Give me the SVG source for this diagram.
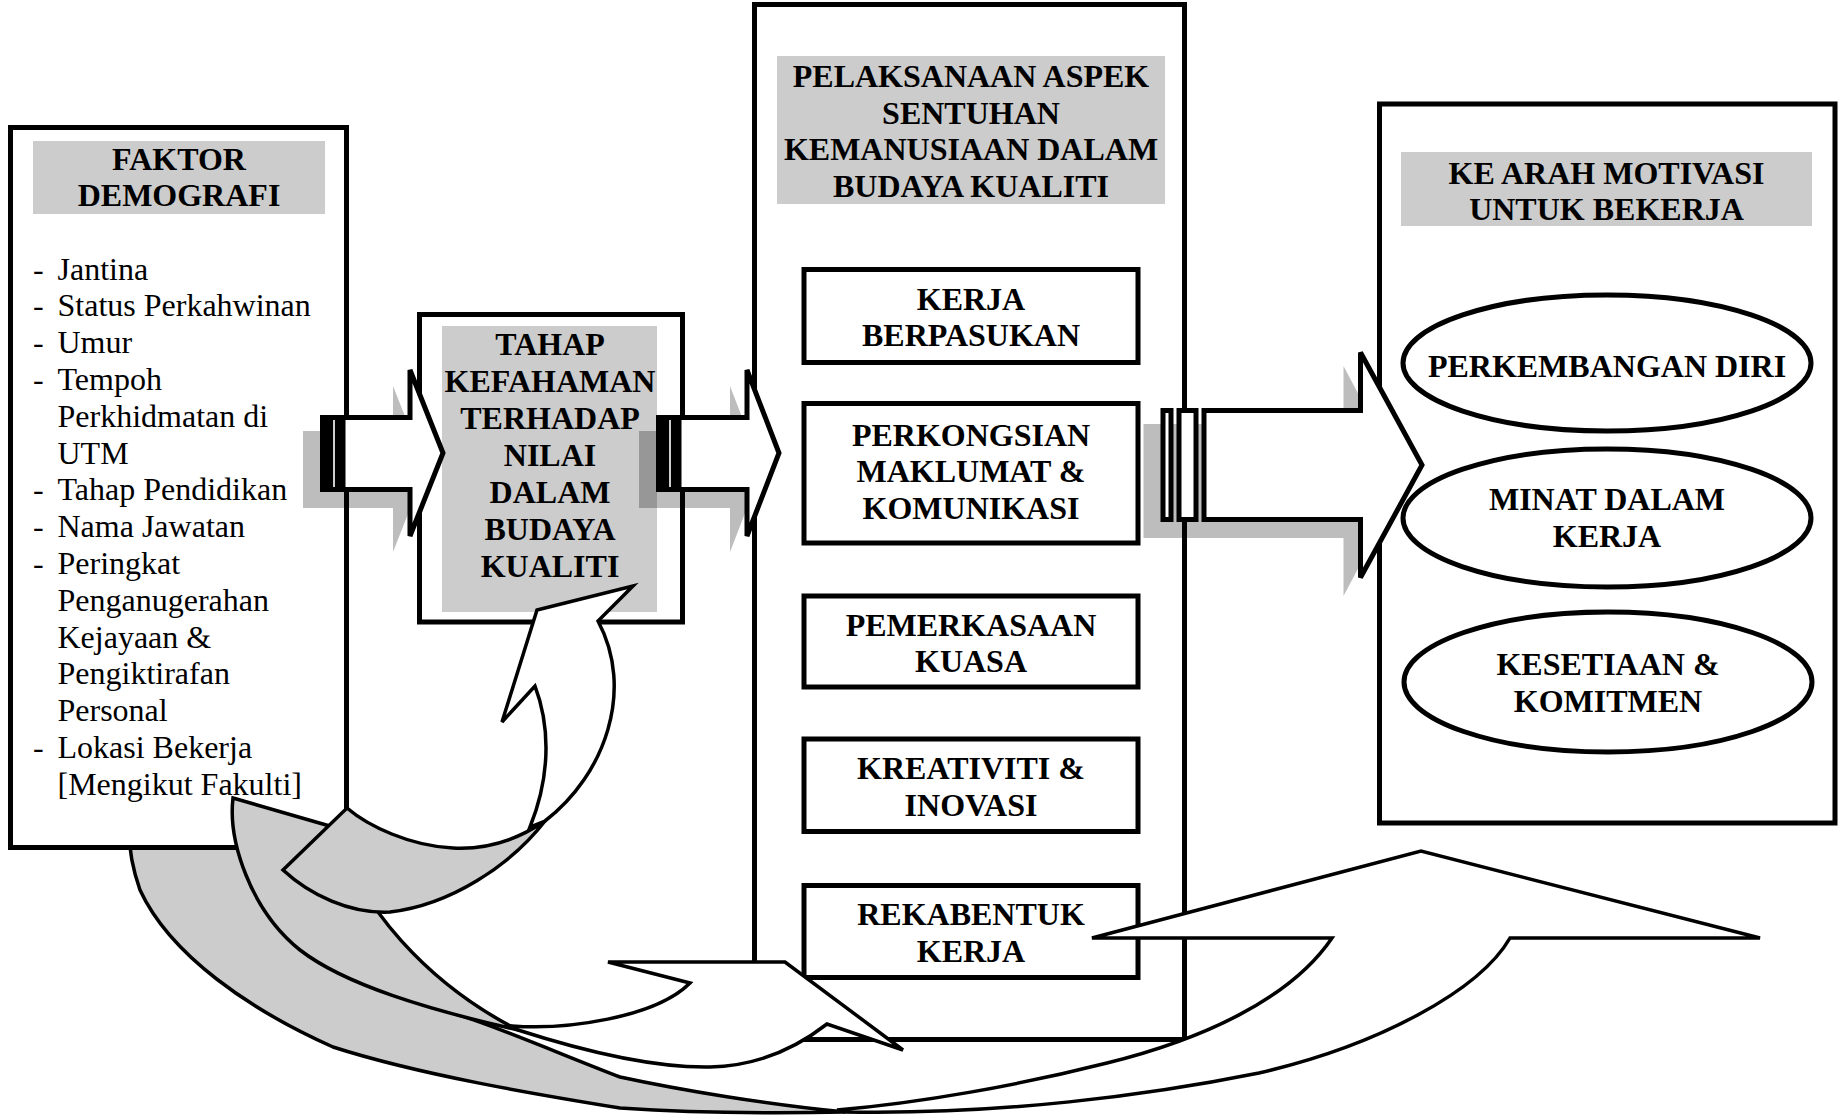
<svg xmlns="http://www.w3.org/2000/svg" width="1839" height="1118" viewBox="0 0 1839 1118">
  <style>
    .box { fill: #fff; stroke: #000; stroke-width: 5; }
    .hdr { fill: #cccccc; }
    .t { font-family: "Liberation Serif", "Times New Roman", serif; font-size: 32px; fill: #000; }
    .b { font-weight: bold; text-anchor: middle; }
    .ell { fill: #fff; stroke: #000; stroke-width: 5; }
    .blk { fill: #fff; stroke: #000; stroke-width: 5; stroke-linejoin: miter; }
    .bar { fill: #000; }
    .slit { fill: #fff; }
    .shadow { fill: #000; fill-opacity: 0.26; }
    .curve { stroke: #000; stroke-width: 3.5; stroke-linejoin: miter; }
    .back { fill: #cccccc; }
    .front { fill: #fff; }
  </style>

  <rect width="1839" height="1118" fill="#fff"/>

  <!-- Centre column: human-touch aspects of quality culture -->
  <g id="aspek">
    <rect class="box" x="754.5" y="4.5" width="430" height="1035"/>
    <rect class="hdr" x="777" y="56" width="388" height="148"/>
    <text class="t b" x="971" y="87">PELAKSANAAN ASPEK</text>
    <text class="t b" x="971" y="123.5">SENTUHAN</text>
    <text class="t b" x="971" y="160">KEMANUSIAAN DALAM</text>
    <text class="t b" x="971" y="196.5">BUDAYA KUALITI</text>
  </g>
  <g id="kerja-berpasukan">
    <rect class="box" x="804" y="269.5" width="334" height="93"/>
    <text class="t b" x="971" y="309.5">KERJA</text>
    <text class="t b" x="971" y="346">BERPASUKAN</text>
  </g>
  <g id="perkongsian">
    <rect class="box" x="804" y="403.5" width="334" height="139.5"/>
    <text class="t b" x="971" y="445.5">PERKONGSIAN</text>
    <text class="t b" x="971" y="482.3">MAKLUMAT &amp;</text>
    <text class="t b" x="971" y="519">KOMUNIKASI</text>
  </g>
  <g id="pemerkasaan">
    <rect class="box" x="804" y="596" width="334" height="91"/>
    <text class="t b" x="971" y="635.5">PEMERKASAAN</text>
    <text class="t b" x="971" y="672">KUASA</text>
  </g>
  <g id="kreativiti">
    <rect class="box" x="804" y="739" width="334" height="92.5"/>
    <text class="t b" x="971" y="779">KREATIVITI &amp;</text>
    <text class="t b" x="971" y="815.5">INOVASI</text>
  </g>
  <g id="rekabentuk">
    <rect class="box" x="804" y="885.5" width="334" height="92"/>
    <text class="t b" x="971" y="924.5">REKABENTUK</text>
    <text class="t b" x="971" y="961.5">KERJA</text>
  </g>

  <!-- Right column: towards work motivation -->
  <g id="motivasi">
    <rect class="box" x="1379.5" y="104" width="455.5" height="719"/>
    <rect class="hdr" x="1401" y="152" width="411" height="74"/>
    <text class="t b" x="1606.5" y="183.5">KE ARAH MOTIVASI</text>
    <text class="t b" x="1606.5" y="220">UNTUK BEKERJA</text>
  </g>
  <g id="perkembangan-diri">
    <ellipse class="ell" cx="1607" cy="363" rx="204" ry="68"/>
    <text class="t b" x="1607" y="377">PERKEMBANGAN DIRI</text>
  </g>
  <g id="minat">
    <ellipse class="ell" cx="1607" cy="518" rx="204" ry="69"/>
    <text class="t b" x="1607" y="510">MINAT DALAM</text>
    <text class="t b" x="1607" y="547">KERJA</text>
  </g>
  <g id="kesetiaan">
    <ellipse class="ell" cx="1608" cy="682" rx="204" ry="70"/>
    <text class="t b" x="1608" y="675">KESETIAAN &amp;</text>
    <text class="t b" x="1608" y="712">KOMITMEN</text>
  </g>

  <!-- Large curved up-arrow sweeping under the diagram (sits behind the left box) -->
  <g id="connector-bawah">
    <path class="curve back" d="M129,830 L250,830 C250,900 330,975 433,1008 C470,1015 550,1050 620,1077 C680,1090 770,1105 845,1112 C750,1114 680,1112 620,1108 C540,1095 420,1075 333,1047 C250,1010 170,955 140,890 C133,870 129,850 129,830 Z"/>
    <path class="curve front" d="M845,1112 C1000,1115 1150,1095 1259,1073 C1380,1045 1480,990 1510,938 L1760,938 L1421,851 L1092,938 L1332,938 C1290,1000 1200,1040 1107,1063 C1020,1085 920,1103 837,1110 Z"/>
  </g>

  <!-- Left column: demographic factors -->
  <g id="faktor-demografi">
    <rect class="box" x="10.5" y="127.5" width="336" height="720"/>
    <rect class="hdr" x="33" y="141" width="292" height="73"/>
    <text class="t b" x="179" y="169.5">FAKTOR</text>
    <text class="t b" x="179" y="205.5">DEMOGRAFI</text>
    <g class="t">
      <text x="33" y="279.5">-</text><text x="57.5" y="279.5">Jantina</text>
      <text x="33" y="316.3">-</text><text x="57.5" y="316.3">Status Perkahwinan</text>
      <text x="33" y="353.1">-</text><text x="57.5" y="353.1">Umur</text>
      <text x="33" y="389.9">-</text><text x="57.5" y="389.9">Tempoh</text>
      <text x="57.5" y="426.7">Perkhidmatan di</text>
      <text x="57.5" y="463.5">UTM</text>
      <text x="33" y="500.3">-</text><text x="57.5" y="500.3">Tahap Pendidikan</text>
      <text x="33" y="537.1">-</text><text x="57.5" y="537.1">Nama Jawatan</text>
      <text x="33" y="573.9">-</text><text x="57.5" y="573.9">Peringkat</text>
      <text x="57.5" y="610.7">Penganugerahan</text>
      <text x="57.5" y="647.5">Kejayaan &amp;</text>
      <text x="57.5" y="684.3">Pengiktirafan</text>
      <text x="57.5" y="721.1">Personal</text>
      <text x="33" y="757.9">-</text><text x="57.5" y="757.9">Lokasi Bekerja</text>
      <text x="57.5" y="794.7">[Mengikut Fakulti]</text>
    </g>
  </g>

  <!-- Middle-left: understanding of quality-culture values -->
  <g id="tahap-kefahaman">
    <rect class="box" x="419.5" y="314.5" width="263" height="307.5"/>
    <rect class="hdr" x="442" y="326" width="215" height="286"/>
    <text class="t b" x="550" y="355">TAHAP</text>
    <text class="t b" x="550" y="392">KEFAHAMAN</text>
    <text class="t b" x="550" y="428.5">TERHADAP</text>
    <text class="t b" x="550" y="466">NILAI</text>
    <text class="t b" x="550" y="503">DALAM</text>
    <text class="t b" x="550" y="540">BUDAYA</text>
    <text class="t b" x="550" y="577">KUALITI</text>
  </g>

  <!-- Connectors -->
  <g id="connectors">
    <!-- striped arrow: demographic factors -> understanding -->
    <polygon class="shadow" points="303,431 393,431 393,386 410,429 410,509 393,552 393,508 303,508"/>
    <polygon class="blk" points="343,417.5 410,417.5 410,370 443,453 410,536 410,489.5 343,489.5"/>
    <rect class="bar" x="320" y="415" width="25" height="77"/>
    <rect class="slit" x="333.2" y="420" width="1.6" height="67"/>

    <!-- striped arrow: understanding -> human-touch aspects -->
    <polygon class="shadow" points="639,431 730,431 730,386 747,430 747,508 730,552 730,508 639,508"/>
    <polygon class="blk" points="679,417.5 747,417.5 747,370 779,453 747,536 747,489.5 679,489.5"/>
    <rect class="bar" x="656" y="415" width="25" height="77"/>
    <rect class="slit" x="669.2" y="420" width="1.6" height="67"/>

    <!-- striped arrow: human-touch aspects -> motivation -->
    <polygon class="shadow" points="1143.5,424 1343.5,424 1343.5,366 1360.5,398 1360.5,564 1343.5,596 1343.5,538 1143.5,538"/>
    <polygon class="blk" points="1204,410.5 1360.5,410.5 1360.5,352.5 1422,465 1360.5,577.5 1360.5,519.5 1204,519.5"/>
    <rect class="blk" x="1163" y="410.5" width="8" height="109"/>
    <rect class="blk" x="1179" y="410.5" width="17" height="109"/>

    <!-- curved arrow into the centre column -->
    <path class="curve back" d="M233,798 L340,829 C355,905 430,985 518,1030 C430,1010 345,985 300,950 C250,910 228,840 233,798 Z"/>
    <path class="curve front" d="M608,962 L785,962 L903,1050 L827,1024 C800,1045 760,1066 710,1067 C650,1068 580,1050 518,1030 L512,1026 C565,1030 655,1018 690,983 Z"/>

    <!-- curved arrow up into the understanding box -->
    <path class="curve back" d="M283,870 L347,808 C368,826 410,846 453,848 C490,850 520,838 545,821 C510,866 450,905 390,912 C350,914 310,895 283,870 Z"/>
    <path class="curve front" d="M633,586 L598,621 C635,690 605,775 545,821 L530,827 C553,770 548,720 535,686 L502,722 L537,610 Z"/>
  </g>
</svg>
